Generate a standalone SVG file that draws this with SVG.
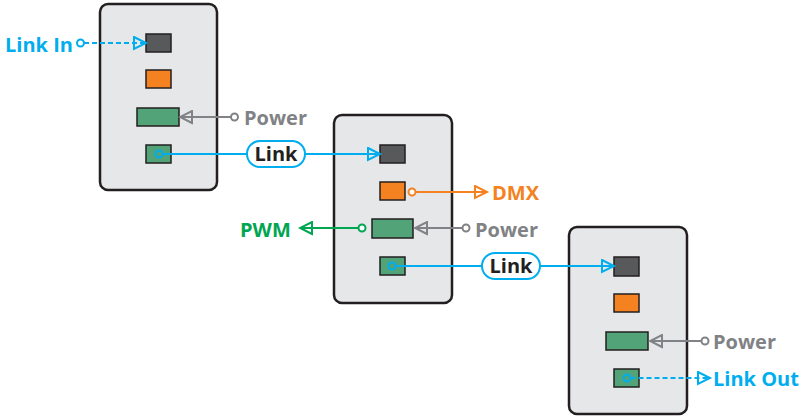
<svg xmlns="http://www.w3.org/2000/svg" width="808" height="417" viewBox="0 0 808 417">
<style>
.box{fill:#e6e7e8;stroke:#231f20;stroke-width:2.5}
.dark{fill:#58595b;stroke:#231f20;stroke-width:1.5}
.orange{fill:#f58220;stroke:#231f20;stroke-width:1.5}
.green{fill:#52a378;stroke:#231f20;stroke-width:1.5}
.t{font-family:"Open Sans","Liberation Sans",sans-serif;font-weight:700;font-size:20px}
.cy{stroke:#00aeef;fill:none;stroke-width:1.9}
.gr{stroke:#808285;fill:none;stroke-width:1.9}
.or{stroke:#f58220;fill:none;stroke-width:1.9}
.gn{stroke:#00a651;fill:none;stroke-width:1.9}
.dash{stroke-dasharray:5 3}
.dot{fill:#fff;stroke-width:2}
.ring{fill:none;stroke-width:2}
.pill{fill:#fff;stroke:#00aeef;stroke-width:2}
</style>
<defs>
<marker id="aCy" markerUnits="userSpaceOnUse" markerWidth="16" markerHeight="15" viewBox="-1.5 -1.5 16 15" refX="12" refY="6" orient="auto"><path d="M0,0 L12,6 L0,12 Z" fill="none" stroke="#00aeef" stroke-width="2"/></marker>
<marker id="aGr" markerUnits="userSpaceOnUse" markerWidth="16" markerHeight="15" viewBox="-1.5 -1.5 16 15" refX="12" refY="6" orient="auto"><path d="M0,0 L12,6 L0,12 Z" fill="none" stroke="#808285" stroke-width="2"/></marker>
<marker id="aOr" markerUnits="userSpaceOnUse" markerWidth="16" markerHeight="15" viewBox="-1.5 -1.5 16 15" refX="12" refY="6" orient="auto"><path d="M0,0 L12,6 L0,12 Z" fill="none" stroke="#f58220" stroke-width="2"/></marker>
<marker id="aGn" markerUnits="userSpaceOnUse" markerWidth="16" markerHeight="15" viewBox="-1.5 -1.5 16 15" refX="12" refY="6" orient="auto"><path d="M0,0 L12,6 L0,12 Z" fill="none" stroke="#00a651" stroke-width="2"/></marker>
</defs>

<g id="node1">
<rect class="box" x="100" y="4" width="117" height="186" rx="8"/>
<rect class="dark" x="146" y="34" width="25" height="18"/>
<rect class="orange" x="146" y="70" width="25" height="18"/>
<rect class="green" x="137" y="108" width="42" height="18"/>
<rect class="green" x="146" y="145" width="25" height="18"/>
</g>
<g id="node2">
<rect class="box" x="334" y="115" width="118" height="188" rx="8"/>
<rect class="dark" x="380" y="145" width="25" height="18"/>
<rect class="orange" x="380" y="182" width="25" height="18"/>
<rect class="green" x="372" y="219" width="41" height="19"/>
<rect class="green" x="380" y="257" width="25" height="18"/>
</g>
<g id="node3">
<rect class="box" x="569" y="227" width="118" height="187" rx="8"/>
<rect class="dark" x="614" y="257" width="25" height="19"/>
<rect class="orange" x="614" y="294" width="25" height="18"/>
<rect class="green" x="606" y="332" width="42" height="18"/>
<rect class="green" x="614" y="369" width="25" height="18"/>
</g>

<g id="connectors">
<line class="cy dash" x1="84" y1="43" x2="146" y2="43" marker-end="url(#aCy)"/>
<circle class="cy dot" cx="80.5" cy="43" r="3.5"/>

<line class="gr" x1="231" y1="117" x2="180" y2="117" marker-end="url(#aGr)"/>
<circle class="gr dot" cx="234.5" cy="117" r="3.5"/>

<line class="cy" x1="162.5" y1="154" x2="380" y2="154" marker-end="url(#aCy)"/>
<circle class="cy ring" cx="159" cy="154" r="3.5"/>

<line class="or" x1="416" y1="192" x2="487" y2="192" marker-end="url(#aOr)"/>
<circle class="or dot" cx="412" cy="192" r="3.5"/>

<line class="gn" x1="358" y1="228" x2="300" y2="228" marker-end="url(#aGn)"/>
<circle class="gn dot" cx="362" cy="228" r="3.5"/>

<line class="gr" x1="462" y1="228" x2="415" y2="228" marker-end="url(#aGr)"/>
<circle class="gr dot" cx="466" cy="228" r="3.5"/>

<line class="cy" x1="395.5" y1="266" x2="614" y2="266" marker-end="url(#aCy)"/>
<circle class="cy ring" cx="392" cy="266" r="3.5"/>

<line class="gr" x1="701" y1="341" x2="650" y2="341" marker-end="url(#aGr)"/>
<circle class="gr dot" cx="705" cy="341" r="3.5"/>

<line class="cy dash" x1="630.5" y1="378" x2="710" y2="378" marker-end="url(#aCy)"/>
<circle class="cy ring" cx="627" cy="378" r="3.5"/>
</g>

<g id="labels">
<text class="t" x="5" y="52" fill="#00aeef">Link In</text>
<text class="t" x="244" y="125" fill="#808285">Power</text>
<rect class="pill" x="247" y="141" width="58" height="26" rx="13"/>
<text class="t" x="276" y="161" fill="#231f20" text-anchor="middle">Link</text>
<text class="t" x="492" y="200" fill="#f58220">DMX</text>
<text class="t" x="240" y="237" fill="#00a651">PWM</text>
<text class="t" x="475" y="237" fill="#808285">Power</text>
<rect class="pill" x="482" y="253" width="58" height="26" rx="13"/>
<text class="t" x="511" y="273" fill="#231f20" text-anchor="middle">Link</text>
<text class="t" x="713" y="349" fill="#808285">Power</text>
<text class="t" x="713" y="386" fill="#00aeef">Link Out</text>
</g>
</svg>
